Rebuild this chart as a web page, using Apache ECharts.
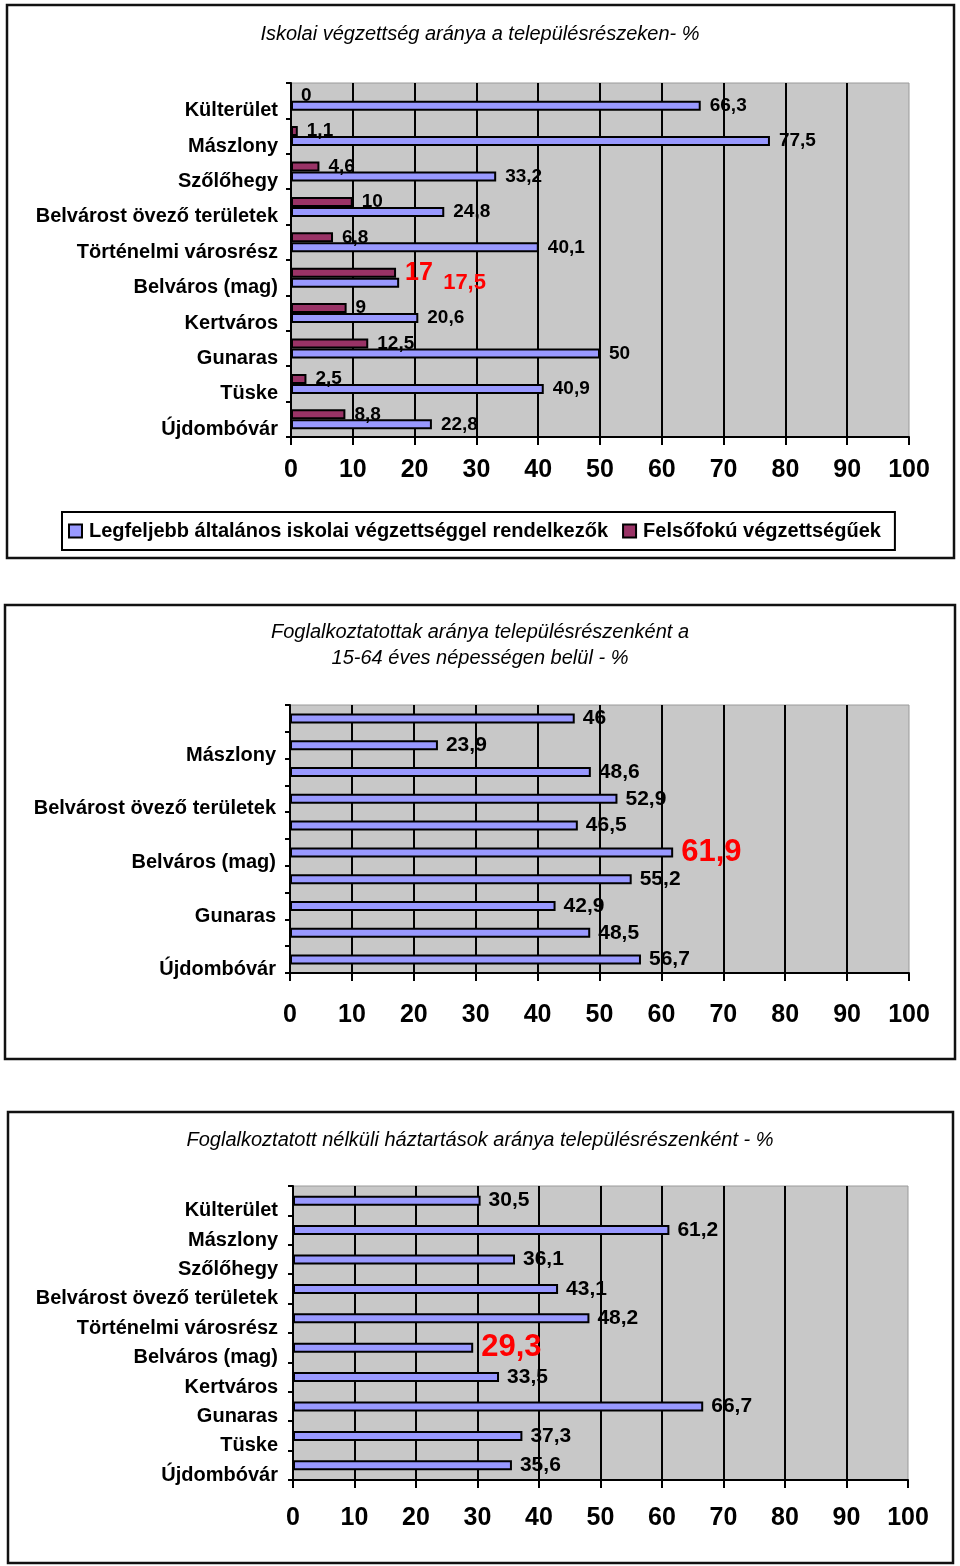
<!DOCTYPE html>
<html><head><meta charset="utf-8">
<script src="https://cdn.jsdelivr.net/npm/echarts@6/dist/echarts.min.js"></script>
<style>html,body{margin:0;padding:0;background:#fff}#c{width:960px;height:1566px}</style>
</head><body><div id="c"></div>
<script>
const categories = ['Külterület', 'Mászlony', 'Szőlőhegy', 'Belvárost övező területek', 'Történelmi városrész', 'Belváros (mag)', 'Kertváros', 'Gunaras', 'Tüske', 'Újdombóvár'];
const basicEdu = [66.3, 77.5, 33.2, 24.8, 40.1, 17.5, 20.6, 50, 40.9, 22.8];
const higherEdu = [0, 1.1, 4.6, 10, 6.8, 17, 9, 12.5, 2.5, 8.8];
const employed = [46, 23.9, 48.6, 52.9, 46.5, 61.9, 55.2, 42.9, 48.5, 56.7];
const noEmployed = [30.5, 61.2, 36.1, 43.1, 48.2, 29.3, 33.5, 66.7, 37.3, 35.6];
const seriesNames = ['Legfeljebb általános iskolai végzettséggel rendelkezők', 'Felsőfokú végzettségűek', 'Foglalkoztatottak', 'Foglalkoztatott nélküli háztartások'];
const titles = ['Iskolai végzettség aránya a településrészeken- %', 'Foglalkoztatottak aránya településrészenként a\n15-64 éves népességen belül - %', 'Foglalkoztatott nélküli háztartások aránya településrészenként - %'];
const highlightIndex = 5;

const FONT = '"Liberation Sans", Arial, sans-serif';
const BLUE = '#9999ff', MAROON = '#993366', RED = '#ff0000';
const fmt = p => String(p.value).replace('.', ',');

function catAxis(gi, interval, margin) {
  return {
    type: 'category', gridIndex: gi, data: categories, inverse: true, boundaryGap: true,
    axisLine: { show: true, lineStyle: { color: '#000', width: 2 } },
    axisTick: { show: true, length: 5, interval: 0, alignWithLabel: false, lineStyle: { color: '#000', width: 2 } },
    axisLabel: { interval: interval, margin: margin, fontSize: 20, fontWeight: 'bold', color: '#000', fontFamily: FONT, verticalAlign: 'top' },
    splitLine: { show: false }
  };
}
function valAxis(gi, margin) {
  return {
    type: 'value', gridIndex: gi, min: 0, max: 100, interval: 10,
    axisLine: { show: true, lineStyle: { color: '#000', width: 2 } },
    axisTick: { show: true, length: 8, lineStyle: { color: '#000', width: 2 } },
    axisLabel: { margin: margin, fontSize: 25, fontWeight: 'bold', color: '#000', fontFamily: FONT },
    splitLine: { show: true, showMinLine: false, showMaxLine: false, lineStyle: { color: '#000', width: 2 } }
  };
}
function mkData(arr, hiLabel) {
  return arr.map((v, i) => i === highlightIndex && hiLabel ? { value: v, label: hiLabel } : v);
}
const baseLabel = { show: true, position: 'right', distance: 9, fontSize: 19, fontWeight: 'bold', color: '#000', fontFamily: FONT, formatter: fmt };
const bigLabel = Object.assign({}, baseLabel, { distance: 8, fontSize: 21 });
const gridStyle = { show: true, backgroundColor: '#c8c8c8', borderColor: '#9a9a9a', borderWidth: 1 };
const titleStyle = { fontSize: 20, lineHeight: 26, fontStyle: 'italic', fontWeight: 'normal', color: '#000', fontFamily: FONT };

const option = {
  animation: false,
  backgroundColor: '#fff',
  textStyle: { fontFamily: FONT },
  title: [
    { text: titles[0], left: 'center', top: 16, textStyle: titleStyle },
    { text: titles[1], left: 'center', top: 614, textStyle: titleStyle },
    { text: titles[2], left: 'center', top: 1122, textStyle: titleStyle }
  ],
  legend: {
    data: [seriesNames[0], seriesNames[1]],
    left: 62, top: 512, orient: 'horizontal',
    borderColor: '#000', borderWidth: 2, padding: [9, 14, 9, 6],
    itemWidth: 13, itemHeight: 13, itemGap: 14, icon: 'rect',
    itemStyle: { borderColor: '#000', borderWidth: 2 },
    textStyle: { fontSize: 20, fontWeight: 'bold', color: '#000', fontFamily: FONT, padding: [0, 0, 0, 2] }
  },
  grid: [
    Object.assign({ left: 291, top: 83, width: 618, height: 354 }, gridStyle),
    Object.assign({ left: 290, top: 705, width: 619, height: 268 }, gridStyle),
    Object.assign({ left: 293, top: 1186, width: 615, height: 294 }, gridStyle)
  ],
  xAxis: [valAxis(0, 21), valAxis(1, 30), valAxis(2, 26)],
  yAxis: [catAxis(0, 0, 13), catAxis(1, (i) => i % 2 === 1, 14), catAxis(2, 0, 15)],
  graphic: [
    { type: 'rect', shape: { x: 7, y: 5, width: 947, height: 553 }, style: { fill: 'none', stroke: '#111', lineWidth: 2.5 }, z: 100 },
    { type: 'rect', shape: { x: 5, y: 605, width: 950, height: 454 }, style: { fill: 'none', stroke: '#111', lineWidth: 2.5 }, z: 100 },
    { type: 'rect', shape: { x: 8, y: 1112, width: 945, height: 451 }, style: { fill: 'none', stroke: '#111', lineWidth: 2.5 }, z: 100 }
  ],
  series: [
    { name: seriesNames[1], type: 'bar', xAxisIndex: 0, yAxisIndex: 0, barWidth: 10, barGap: '0%',
      itemStyle: { color: MAROON, borderColor: '#000', borderWidth: 2 },
      label: baseLabel,
      data: mkData(higherEdu, { color: RED, fontSize: 25 }) },
    { name: seriesNames[0], type: 'bar', xAxisIndex: 0, yAxisIndex: 0, barWidth: 10, barGap: '0%',
      itemStyle: { color: BLUE, borderColor: '#000', borderWidth: 2 },
      label: baseLabel,
      data: mkData(basicEdu, { color: RED, fontSize: 22, offset: [35, 0] }) },
    { name: seriesNames[2], type: 'bar', xAxisIndex: 1, yAxisIndex: 1, barWidth: 10,
      itemStyle: { color: BLUE, borderColor: '#000', borderWidth: 2 },
      label: bigLabel,
      data: mkData(employed, { color: RED, fontSize: 31 }) },
    { name: seriesNames[3], type: 'bar', xAxisIndex: 2, yAxisIndex: 2, barWidth: 10,
      itemStyle: { color: BLUE, borderColor: '#000', borderWidth: 2 },
      label: bigLabel,
      data: mkData(noEmployed, { color: RED, fontSize: 31 }) }
  ]
};
const chart = echarts.init(document.getElementById('c'), null, { renderer: 'canvas' });
chart.setOption(option);
</script></body></html>
